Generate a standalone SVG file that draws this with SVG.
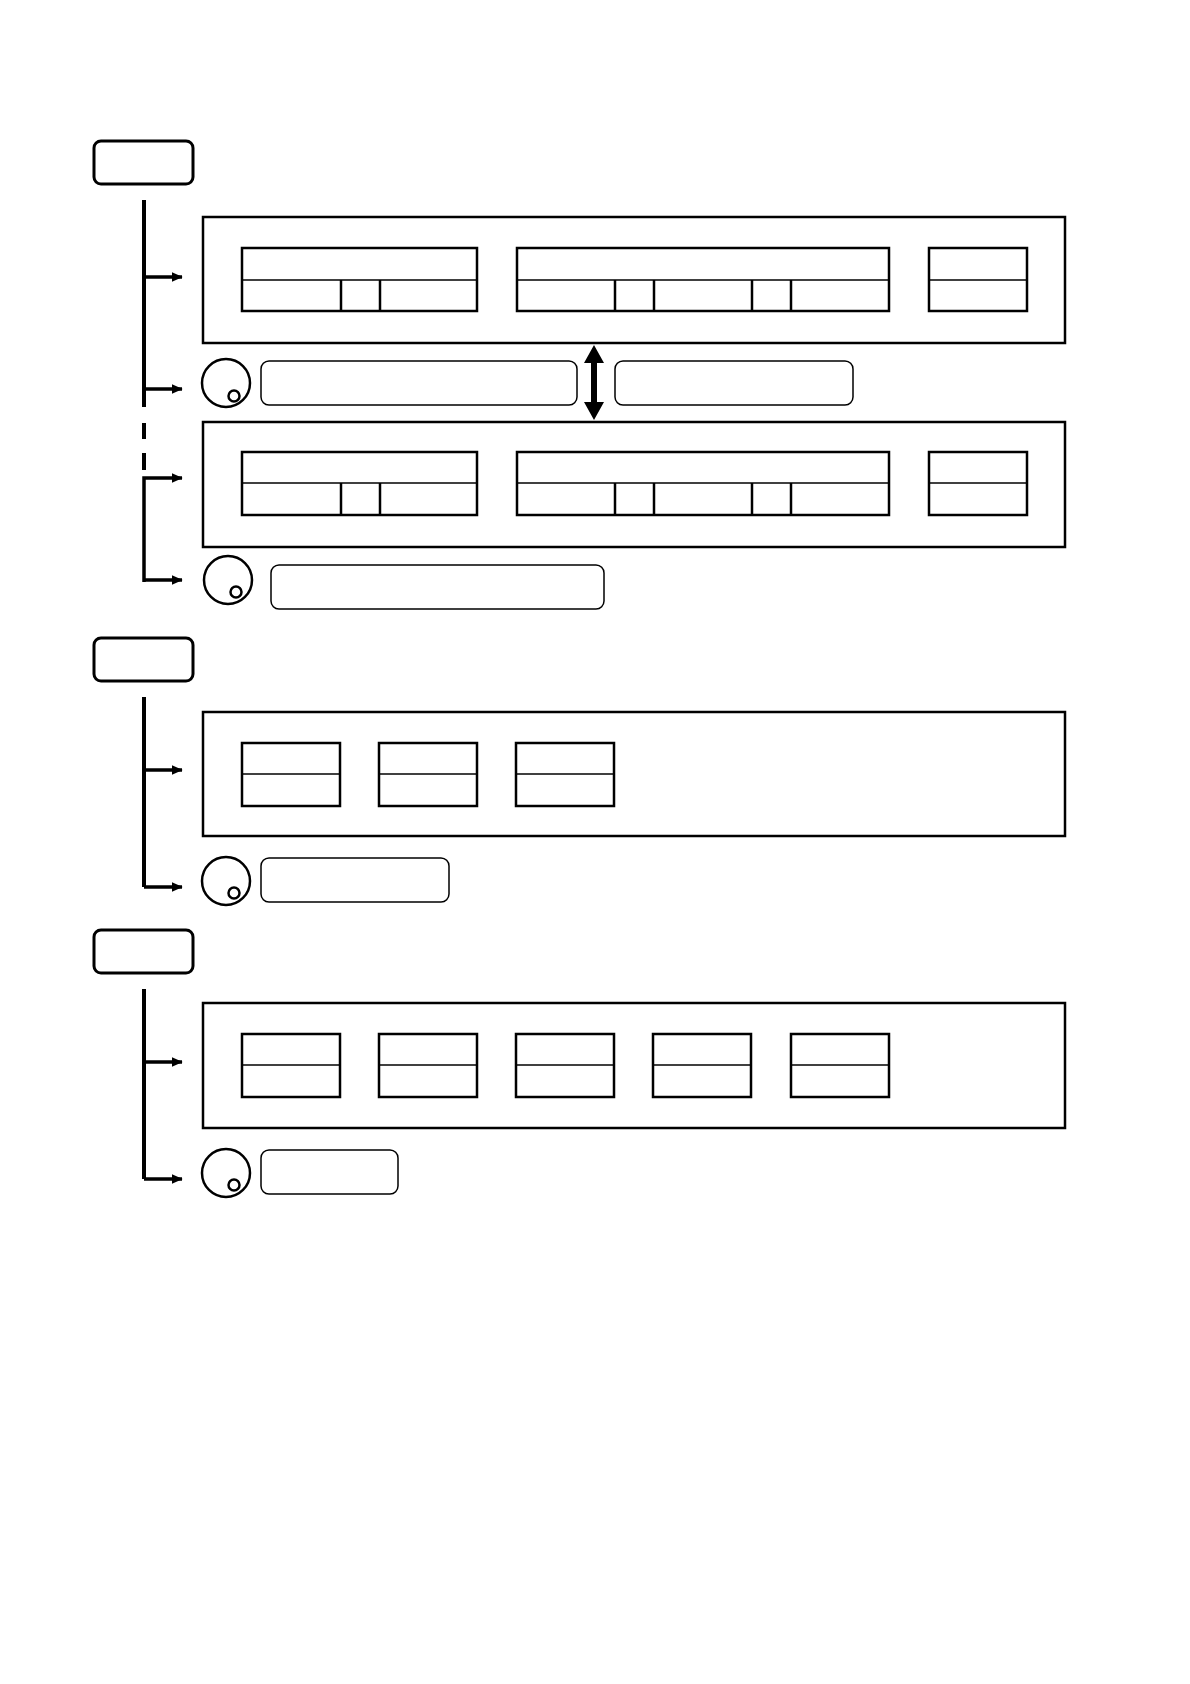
<svg xmlns="http://www.w3.org/2000/svg" width="1190" height="1684" viewBox="0 0 1190 1684">
<style>
.lbl{fill:#fff;stroke:#000;stroke-width:3}
.panel{fill:#fff;stroke:#000;stroke-width:2.5}
.cell{fill:none;stroke:#000;stroke-width:2.5}
.thin{fill:none;stroke:#000;stroke-width:1.5}
.rb{fill:#fff;stroke:#000;stroke-width:1.5}
.ring{fill:#fff;stroke:#000;stroke-width:2.5}
.line{fill:none;stroke:#000;stroke-width:4}
.arr{fill:none;stroke:#000;stroke-width:3.5}
</style>
<defs>
<marker id="ah" markerWidth="4" markerHeight="4" refX="3" refY="2" orient="auto" markerUnits="strokeWidth"><path d="M0,0.6 L3.2,2 L0,3.4 z" fill="#000"/></marker>
<g id="t1"><rect class="cell" x="0" y="0" width="98" height="63"/><line class="thin" x1="0" y1="31" x2="98" y2="31"/></g>
</defs>
<rect width="1190" height="1684" fill="#fff"/>
<g id="connectors">
<line class="line" x1="144" y1="200" x2="144" y2="407"/>
<line class="line" x1="144" y1="423" x2="144" y2="439"/>
<line class="line" x1="144" y1="453" x2="144" y2="470"/>
<path class="arr" d="M144,277 H182" marker-end="url(#ah)"/>
<path class="arr" d="M144,389 H182" marker-end="url(#ah)"/>
<path class="arr" d="M144,582 V478 H182" marker-end="url(#ah)"/>
<path class="arr" d="M144,580 H182" marker-end="url(#ah)"/>
<line class="line" x1="144" y1="697" x2="144" y2="887"/>
<path class="arr" d="M144,770 H182" marker-end="url(#ah)"/>
<path class="arr" d="M144,887 H182" marker-end="url(#ah)"/>
<line class="line" x1="144" y1="989" x2="144" y2="1179"/>
<path class="arr" d="M144,1062 H182" marker-end="url(#ah)"/>
<path class="arr" d="M144,1179 H182" marker-end="url(#ah)"/>
<path d="M594,345 L604,363 L597,363 L597,402 L604,402 L594,420 L584,402 L591,402 L591,363 L584,363 z" fill="#000"/>
</g>
<g id="label1"><rect class="lbl" x="94" y="141" width="99" height="43" rx="7"/></g>
<g id="panel1">
<rect class="panel" x="203" y="217" width="862" height="126"/>
<rect class="cell" x="242" y="248" width="235" height="63"/><line class="thin" x1="242" y1="280" x2="477" y2="280"/>
<line class="cell" x1="341" y1="280" x2="341" y2="311"/><line class="cell" x1="380" y1="280" x2="380" y2="311"/>
<rect class="cell" x="517" y="248" width="372" height="63"/><line class="thin" x1="517" y1="280" x2="889" y2="280"/>
<line class="cell" x1="615" y1="280" x2="615" y2="311"/><line class="cell" x1="654" y1="280" x2="654" y2="311"/>
<line class="cell" x1="752" y1="280" x2="752" y2="311"/><line class="cell" x1="791" y1="280" x2="791" y2="311"/>
<rect class="cell" x="929" y="248" width="98" height="63"/><line class="thin" x1="929" y1="280" x2="1027" y2="280"/>
</g>
<g id="note1">
<circle class="ring" cx="226" cy="383" r="24"/><circle class="ring" cx="234" cy="396" r="5.5"/>
<rect class="rb" x="261" y="361" width="316" height="44" rx="8"/>
<rect class="rb" x="615" y="361" width="238" height="44" rx="8"/>
</g>
<g id="panel2">
<rect class="panel" x="203" y="422" width="862" height="125"/>
<rect class="cell" x="242" y="452" width="235" height="63"/><line class="thin" x1="242" y1="483" x2="477" y2="483"/>
<line class="cell" x1="341" y1="483" x2="341" y2="515"/><line class="cell" x1="380" y1="483" x2="380" y2="515"/>
<rect class="cell" x="517" y="452" width="372" height="63"/><line class="thin" x1="517" y1="483" x2="889" y2="483"/>
<line class="cell" x1="615" y1="483" x2="615" y2="515"/><line class="cell" x1="654" y1="483" x2="654" y2="515"/>
<line class="cell" x1="752" y1="483" x2="752" y2="515"/><line class="cell" x1="791" y1="483" x2="791" y2="515"/>
<rect class="cell" x="929" y="452" width="98" height="63"/><line class="thin" x1="929" y1="483" x2="1027" y2="483"/>
</g>
<g id="note2">
<circle class="ring" cx="228" cy="580" r="24"/><circle class="ring" cx="236" cy="592" r="5.5"/>
<rect class="rb" x="271" y="565" width="333" height="44" rx="8"/>
</g>
<g id="label2"><rect class="lbl" x="94" y="638" width="99" height="43" rx="7"/></g>
<g id="panel3">
<rect class="panel" x="203" y="712" width="862" height="124"/>
<use href="#t1" x="242" y="743"/><use href="#t1" x="379" y="743"/><use href="#t1" x="516" y="743"/>
</g>
<g id="note3">
<circle class="ring" cx="226" cy="881" r="24"/><circle class="ring" cx="234" cy="893" r="5.5"/>
<rect class="rb" x="261" y="858" width="188" height="44" rx="8"/>
</g>
<g id="label3"><rect class="lbl" x="94" y="930" width="99" height="43" rx="7"/></g>
<g id="panel4">
<rect class="panel" x="203" y="1003" width="862" height="125"/>
<use href="#t1" x="242" y="1034"/><use href="#t1" x="379" y="1034"/><use href="#t1" x="516" y="1034"/><use href="#t1" x="653" y="1034"/><use href="#t1" x="791" y="1034"/>
</g>
<g id="note4">
<circle class="ring" cx="226" cy="1173" r="24"/><circle class="ring" cx="234" cy="1185" r="5.5"/>
<rect class="rb" x="261" y="1150" width="137" height="44" rx="8"/>
</g>
</svg>
